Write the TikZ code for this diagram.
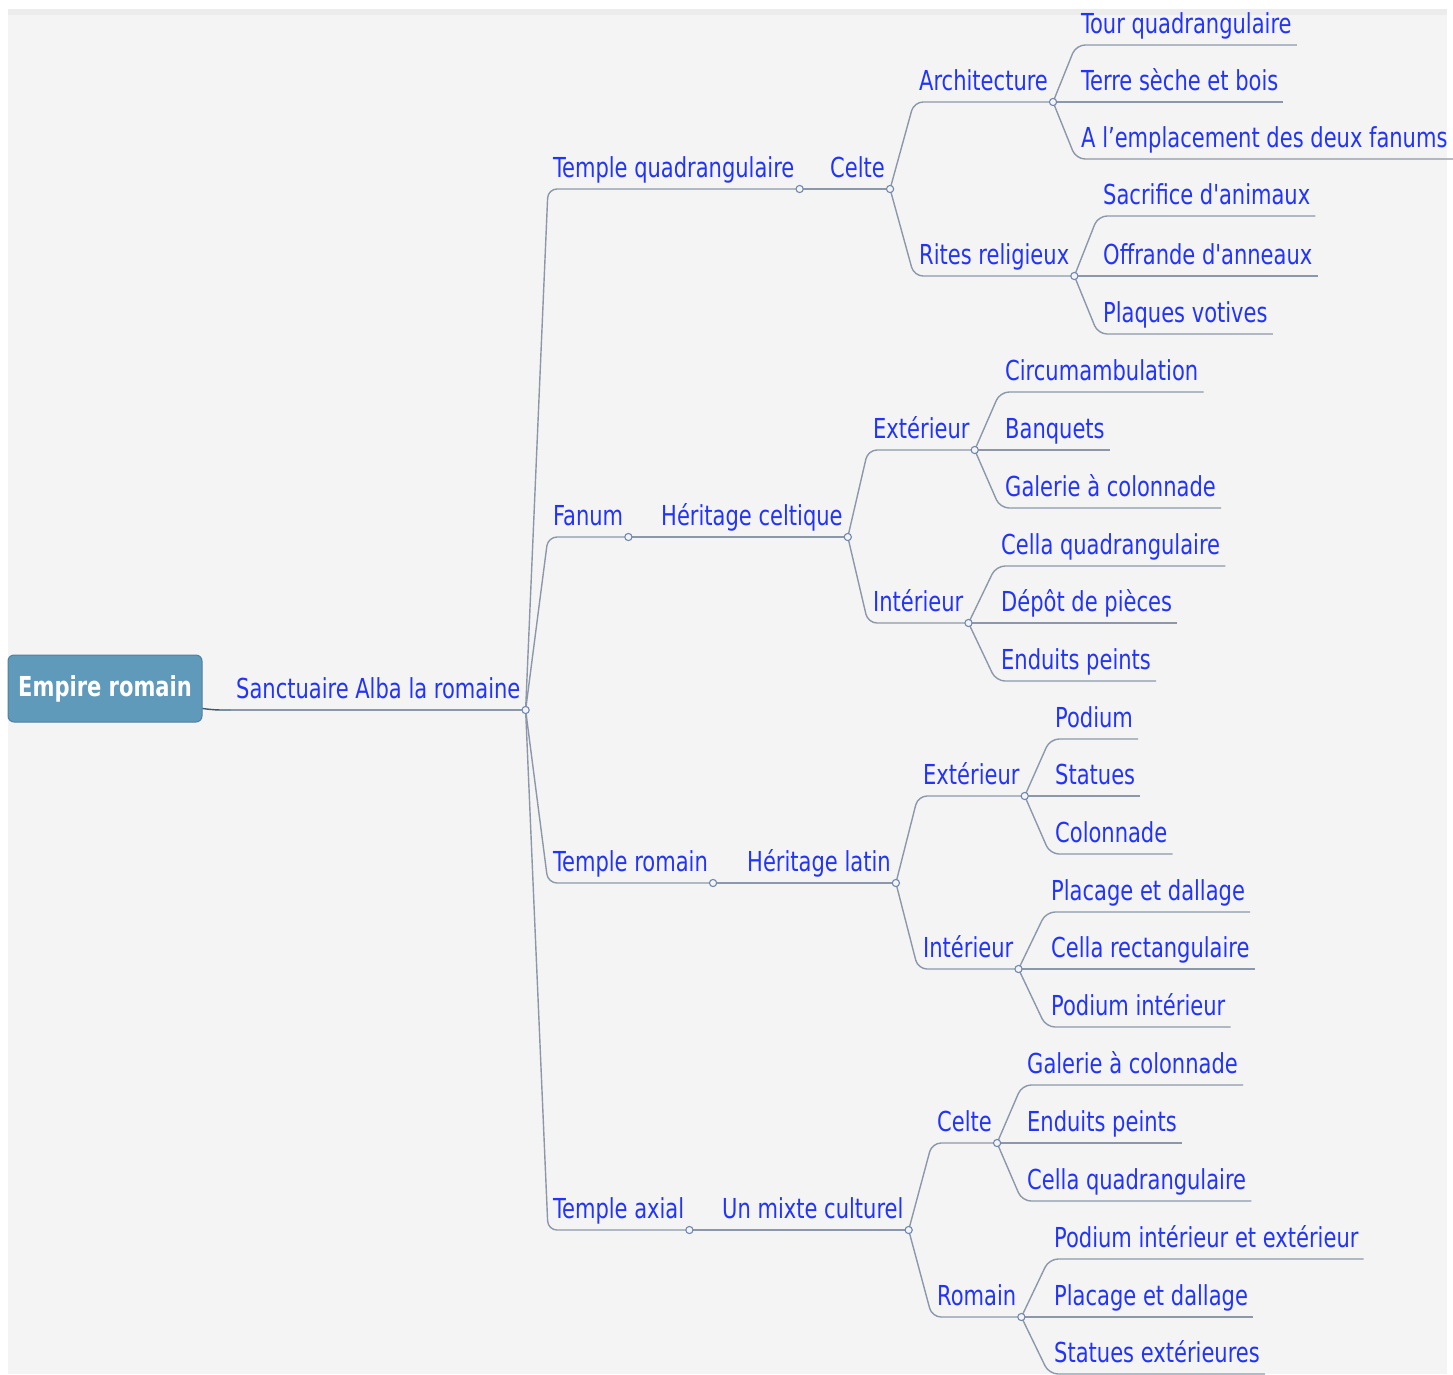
\documentclass[tikz,border=0pt]{standalone}
\usepackage{fontspec}
\newfontfamily\mapfont[FakeStretch=0.85]{DejaVu Sans Condensed}
\usepackage{tikz}
\usepackage{xcolor}

\definecolor{bggray}{RGB}{244,244,244}
\definecolor{bgband}{RGB}{236,236,236}
\definecolor{mapblue}{RGB}{34,52,252}
\definecolor{linegray}{RGB}{140,152,170}
\definecolor{knotblue}{RGB}{112,136,176}
\definecolor{rootfill}{RGB}{96,154,187}
\definecolor{rootdraw}{RGB}{78,128,160}

\tikzset{
	topic/.style={anchor=south west, inner xsep=5pt, inner ysep=4pt, text depth=7pt, text=mapblue, font=\mapfont\fontsize{27.5}{30}\selectfont},
	branch/.style={draw=linegray, line width=1.4pt, rounded corners=9pt},
	knot/.style={draw=knotblue, fill=bggray, line width=1.1pt},
	rootbox/.style={draw=rootdraw, fill=rootfill, line width=1pt, rounded corners=6pt, minimum width=194pt, minimum height=67pt, text=white, font=\mapfont\bfseries\fontsize{27.5}{30}\selectfont}
}

\begin{document}
\begin{tikzpicture}[x=1pt, y=-1pt]
	\useasboundingbox (0,0) rectangle (1453,1374);
	\fill[white] (0,0) rectangle (1453,1374);
	\fill[bggray] (8,9) rectangle (1447,1374);
	\fill[bgband] (8,9) rectangle (1447,15);

	\node[rootbox] (root) at (105,688.5) {Empire romain};
	\node[topic] (sanct) at (231,710) {Sanctuaire Alba la romaine};
	\draw[line width=1.4pt, draw=rootdraw!70!black] ([yshift=14pt]root.south east) .. controls (215,710) .. (sanct.south west);
	\draw[branch] (sanct.south west) -- (sanct.south east);

	\foreach \src/\dst/\x/\y/\lbl in {
		sanct/tq/548/189/Temple quadrangulaire,
		sanct/fanum/548/537/Fanum,
		sanct/troman/548/883/Temple romain,
		sanct/taxial/548/1230/Temple axial,
		tq/celteA/825/189/Celte,
		fanum/hceltique/656/537/Héritage celtique,
		troman/hlatin/742/883/Héritage latin,
		taxial/mixte/717/1230/Un mixte culturel,
		celteA/arch/914/102/Architecture,
		celteA/rites/914/276/Rites religieux,
		hceltique/extA/868/450/Extérieur,
		hceltique/intA/868/623/Intérieur,
		hlatin/extB/918/796/Extérieur,
		hlatin/intB/918/969/Intérieur,
		mixte/celteB/932/1143/Celte,
		mixte/romain/932/1317/Romain,
		arch/tour/1076/45/Tour quadrangulaire,
		arch/terre/1076/102/Terre sèche et bois,
		arch/emplac/1076/159/A l’emplacement des deux fanums,
		rites/sacrif/1098/216/Sacrifice d'animaux,
		rites/offrande/1098/276/Offrande d'anneaux,
		rites/plaques/1098/334/Plaques votives,
		extA/circum/1000/392/Circumambulation,
		extA/banquets/1000/450/Banquets,
		extA/galerieA/1000/508/Galerie à colonnade,
		intA/cellaA/996/566/Cella quadrangulaire,
		intA/depot/996/623/Dépôt de pièces,
		intA/enduitsA/996/681/Enduits peints,
		extB/podium/1050/739/Podium,
		extB/statues/1050/796/Statues,
		extB/colonnade/1050/854/Colonnade,
		intB/placageA/1046/912/Placage et dallage,
		intB/cellarect/1046/969/Cella rectangulaire,
		intB/podiumint/1046/1027/Podium intérieur,
		celteB/galerieB/1022/1085/Galerie à colonnade,
		celteB/enduitsB/1022/1143/Enduits peints,
		celteB/cellaB/1022/1201/Cella quadrangulaire,
		romain/podiumie/1049/1259/Podium intérieur et extérieur,
		romain/placageB/1049/1317/Placage et dallage,
		romain/statuesext/1049/1374/Statues extérieures}
	{
		\node[topic] (\dst) at (\x,\y) {\lbl};
		\draw[branch] (\src.south east) -- (\dst.south west) -- (\dst.south east);
	}

	\foreach \j in {sanct,tq,fanum,troman,taxial,celteA,hceltique,hlatin,mixte,arch,rites,extA,intA,extB,intB,celteB,romain}
	{
		\draw[knot] (\j.south east) circle (3.6pt);
	}
\end{tikzpicture}
\end{document}
